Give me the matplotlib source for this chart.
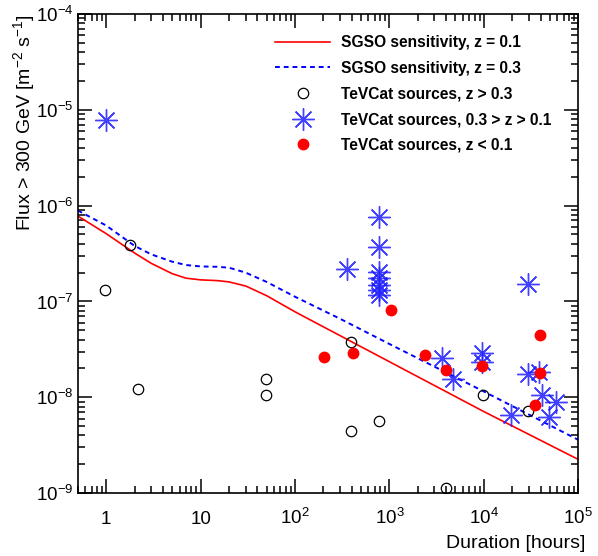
import math
import matplotlib
matplotlib.use("Agg")
import matplotlib.pyplot as plt
from matplotlib.ticker import LogLocator, FuncFormatter, NullFormatter
from matplotlib.transforms import blended_transform_factory

plt.rcParams['font.family'] = ['Liberation Sans', 'DejaVu Sans']
plt.rcParams['mathtext.default'] = 'regular'

# sensitivity curves
sens_t = [0.5, 1, 2, 3, 5, 7, 10, 15, 20, 30, 50, 100, 300, 1000, 1e4, 1e5]
sens_z01 = [7.8e-7, 5.1e-7, 3.2e-7, 2.5e-7, 1.95e-7, 1.75e-7, 1.68e-7, 1.65e-7,
            1.6e-7, 1.45e-7, 1.15e-7, 7.8e-8, 4.4e-8, 2.35e-8, 7.1e-9, 2.25e-9]
sens_z03 = [8.9e-7, 6.2e-7, 3.8e-7, 3.1e-7, 2.6e-7, 2.4e-7, 2.32e-7, 2.3e-7,
            2.25e-7, 2.0e-7, 1.6e-7, 1.12e-7, 6.6e-8, 3.6e-8, 1.15e-8, 3.6e-9]

# TeVCat sources, z > 0.3
hi_t = [0.98, 1.8, 2.2, 49.7, 49.7, 388, 388, 774, 3935, 9840, 29400]
hi_f = [1.31e-7, 3.88e-7, 1.21e-8, 1.55e-8, 1.07e-8, 3.74e-8, 4.4e-9, 5.7e-9,
        1.12e-9, 1.07e-8, 7.2e-9]

# TeVCat sources, 0.3 > z > 0.1
mid_t = [1.0, 357, 774, 774, 774, 774, 774, 774, 774, 3566, 4700, 9590, 9590,
         29400, 29400, 38800, 40800, 58200, 48700, 19400]
mid_f = [7.8e-6, 2.18e-7, 7.66e-7, 3.72e-7, 2.04e-7, 1.74e-7, 1.48e-7, 1.32e-7,
         1.17e-7, 2.55e-8, 1.57e-8, 2.9e-8, 2.35e-8, 1.51e-7, 1.75e-8, 1.85e-8,
         1.05e-8, 8.97e-9, 6.2e-9, 6.6e-9]

# TeVCat sources, z < 0.1
lo_t = [203, 411, 1045, 2355, 3935, 9590, 39800, 39800, 34700]
lo_f = [2.65e-8, 2.87e-8, 8.13e-8, 2.75e-8, 1.92e-8, 2.13e-8, 4.45e-8, 1.8e-8, 8.3e-9]

x_ticks = [1, 10, 100, 1000, 1e4, 1e5]
x_labels = ['1', '10', '$10^{2}$', '$10^{3}$', '$10^{4}$', '$10^{5}$']

fig = plt.figure(figsize=(5.98, 5.56), dpi=100)
ax = fig.add_axes([0.130, 0.113, 0.837, 0.862])

ax.plot(sens_t, sens_z01, color='red', lw=1.2, label='SGSO sensitivity, z = 0.1')
ax.plot(sens_t, sens_z03, color='blue', lw=1.4, ls=(0, (2.5, 2)),
        label='SGSO sensitivity, z = 0.3')
ax.plot(hi_t, hi_f, ls='none', marker='o', ms=7.5, mfc='none', mec='black',
        mew=0.9, label='TeVCat sources, z > 0.3')
ax.plot(mid_t, mid_f, ls='none', marker=(8, 2, 0), ms=16, mec='#2020ff',
        mew=1.0, alpha=0.85, label='TeVCat sources, 0.3 > z > 0.1')
ax.plot(lo_t, lo_f, ls='none', marker='o', ms=7.5, color='red', mec='red',
        label='TeVCat sources, z < 0.1')

ax.set_xscale('log')
ax.set_yscale('log')
ax.set_xlim(0.5, 1e5)
ax.set_ylim(1e-9, 1e-4)

def yfmt(v, pos):
    return '$10^{%d}$' % round(math.log10(v))

ax.xaxis.set_major_locator(LogLocator(base=10, numticks=20))
ax.xaxis.set_minor_locator(LogLocator(base=10, subs=range(2, 10), numticks=20))
ax.yaxis.set_major_locator(LogLocator(base=10, numticks=20))
ax.yaxis.set_major_formatter(FuncFormatter(yfmt))
ax.yaxis.set_minor_locator(LogLocator(base=10, subs=range(2, 10), numticks=20))
ax.yaxis.set_minor_formatter(NullFormatter())

ax.tick_params(which='both', direction='in', top=True, right=True, width=1.1)
ax.tick_params(which='major', length=10, labelsize=13.5)
ax.tick_params(which='minor', length=5)
ax.tick_params(axis='y', which='major', pad=3)
ax.tick_params(axis='x', which='both', labelbottom=False)
for s in ax.spines.values():
    s.set_linewidth(1.2)

# x tick labels on a common baseline
tr = blended_transform_factory(ax.transData, ax.transAxes)
for v, lab in zip(x_ticks, x_labels):
    ax.text(v, -0.0647, lab, transform=tr, ha='center', va='baseline',
            fontsize=13.5, clip_on=False)

ax.set_xlabel('Duration [hours]', fontsize=14)
ax.xaxis.set_label_coords(1.014, -0.114)
ax.xaxis.label.set_ha('right')
ax.xaxis.label.set_va('baseline')
ax.set_ylabel('Flux > 300 GeV [m$^{-2}$ s$^{-1}$]', fontsize=14, loc='top')
ax.yaxis.set_label_coords(-0.082, 1.0)

ax.legend(loc='upper left', bbox_to_anchor=(0.382, 0.969), frameon=False,
          prop={'weight': 'bold', 'size': 11.2}, handlelength=3.55,
          handletextpad=0.7, labelspacing=0.69, borderaxespad=0)

fig.savefig('out.png', dpi=100)
